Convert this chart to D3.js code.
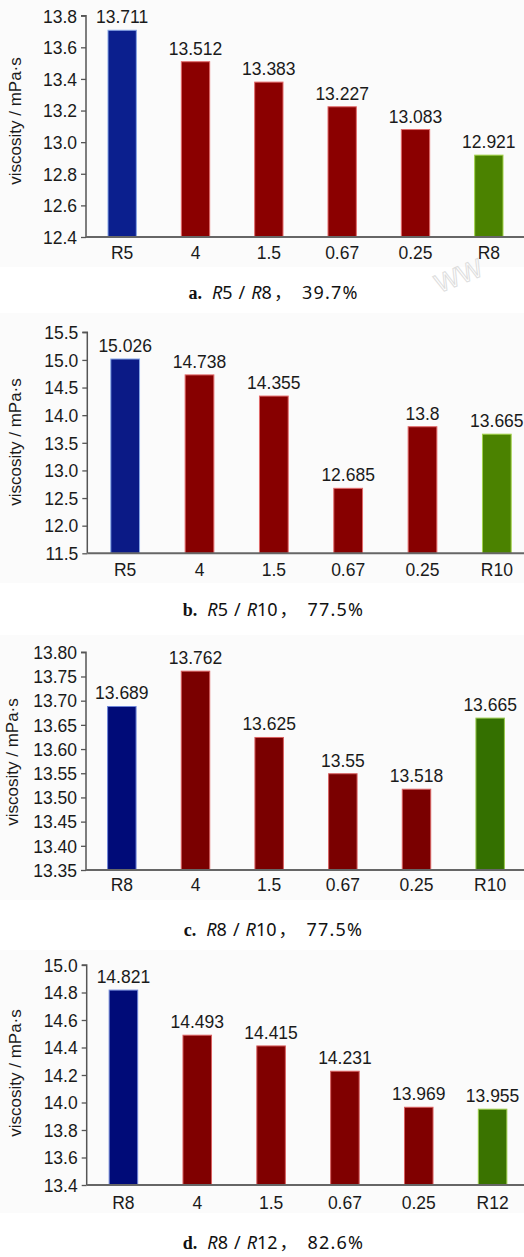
<!DOCTYPE html>
<html>
<head>
<meta charset="utf-8">
<script src="https://cdn.jsdelivr.net/npm/d3@7/dist/d3.min.js"></script>
<style>
  html, body { margin: 0; padding: 0; background: #fff; }
  svg { display: block; }
</style>
</head>
<body>
<svg id="chart" width="524" height="1257"></svg>
<script>
// ---- data -------------------------------------------------------------
const catsA = ["R5", "4", "1.5", "0.67", "0.25", "R8"];
const valsA = [13.711, 13.512, 13.383, 13.227, 13.083, 12.921];
const ticksA = [12.4, 12.6, 12.8, 13.0, 13.2, 13.4, 13.6, 13.8];

const catsB = ["R5", "4", "1.5", "0.67", "0.25", "R10"];
const valsB = [15.026, 14.738, 14.355, 12.685, 13.8, 13.665];
const ticksB = [11.5, 12.0, 12.5, 13.0, 13.5, 14.0, 14.5, 15.0, 15.5];

const catsC = ["R8", "4", "1.5", "0.67", "0.25", "R10"];
const valsC = [13.689, 13.762, 13.625, 13.55, 13.518, 13.665];
const ticksC = [13.35, 13.40, 13.45, 13.50, 13.55, 13.60, 13.65, 13.70, 13.75, 13.80];

const catsD = ["R8", "4", "1.5", "0.67", "0.25", "R12"];
const valsD = [14.821, 14.493, 14.415, 14.231, 13.969, 13.955];
const ticksD = [13.4, 13.6, 13.8, 14.0, 14.2, 14.4, 14.6, 14.8, 15.0];

// caption parts: letter, first ratio, second ratio, percentage
const captions = [
  ["a.", "5", "8", "39.7%"],
  ["b.", "5", "10", "77.5%"],
  ["c.", "8", "10", "77.5%"],
  ["d.", "8", "12", "82.6%"]
];

// ---- layout -----------------------------------------------------------
const panels = [
  { cats: catsA, vals: valsA, ticks: ticksA, dec: 1, cap: captions[0],
    bg: [0, 267], yTop: 15.7, yBot: 237, x0: 85.5, x1: 525.5, ax: 86,
    xLab: 259, yLab: [15, 121], capY: 299,
    colors: { start: ["#0b1f8e", "#86a6e6"], mid: ["#8b0000", "#e26a6a"], end: ["#4b8200", "#a3d24a"] } },
  { cats: catsB, vals: valsB, ticks: ticksB, dec: 1, cap: captions[1],
    bg: [313, 583], yTop: 332.3, yBot: 553.3, x0: 88, x1: 534, ax: 87.3,
    xLab: 576, yLab: [15, 442], capY: 616,
    colors: { start: ["#0b1a86", "#86a6e6"], mid: ["#870000", "#e26a6a"], end: ["#4b8200", "#a3d24a"] } },
  { cats: catsC, vals: valsC, ticks: ticksC, dec: 2, cap: captions[2],
    bg: [635, 900], yTop: 652.3, yBot: 870, x0: 85, x1: 527, ax: 86,
    xLab: 891, yLab: [12, 762], capY: 936,
    colors: { start: ["#000b78", "#6f86d8"], mid: ["#7a0000", "#d86060"], end: ["#347000", "#96c84a"] } },
  { cats: catsD, vals: valsD, ticks: ticksD, dec: 1, cap: captions[3],
    bg: [950, 1213], yTop: 965, yBot: 1185, x0: 86.5, x1: 529.5, ax: 86.7,
    xLab: 1209, yLab: [15, 1073], capY: 1249,
    colors: { start: ["#000b78", "#6f86d8"], mid: ["#800000", "#d86060"], end: ["#3a7300", "#9ccc4a"] } }
];

const svg = d3.select("#chart");
const sans = "'Liberation Sans', Arial, sans-serif";
const fs = 17.5;

panels.forEach(p => {
  const g = svg.append("g");

  // light panel background
  g.append("rect")
    .attr("x", 0).attr("y", p.bg[0])
    .attr("width", 524).attr("height", p.bg[1] - p.bg[0])
    .attr("fill", "#fbfbfb");

  const y = d3.scaleLinear()
    .domain([p.ticks[0], p.ticks[p.ticks.length - 1]])
    .range([p.yBot, p.yTop]);

  const x = d3.scaleBand()
    .domain(p.cats)
    .range([p.x0, p.x1])
    .paddingInner(0.6)
    .paddingOuter(0.3);

  // bars
  const colorOf = i => i === 0 ? p.colors.start : (i === p.cats.length - 1 ? p.colors.end : p.colors.mid);
  g.selectAll("rect.bar")
    .data(p.vals)
    .join("rect")
    .attr("class", "bar")
    .attr("x", (d, i) => x(p.cats[i]) + 0.5)
    .attr("y", d => y(d) + 0.5)
    .attr("width", x.bandwidth() - 1)
    .attr("height", d => y.range()[0] - y(d) - 0.5)
    .attr("fill", (d, i) => colorOf(i)[0])
    .attr("stroke", (d, i) => colorOf(i)[1])
    .attr("stroke-width", 1);

  // value labels
  g.selectAll("text.val")
    .data(p.vals)
    .join("text")
    .attr("class", "val")
    .attr("x", (d, i) => x(p.cats[i]) + x.bandwidth() / 2)
    .attr("y", d => y(d) - 6.5)
    .attr("text-anchor", "middle")
    .attr("font-family", sans)
    .attr("font-size", fs)
    .attr("fill", "#1a1a1a")
    .text(d => String(d));

  // y axis
  const yAxis = d3.axisLeft(y)
    .tickValues(p.ticks)
    .tickFormat(d3.format("." + p.dec + "f"))
    .tickSize(5)
    .tickPadding(4);
  const ya = g.append("g")
    .attr("transform", `translate(${p.ax},0)`)
    .call(yAxis);
  ya.select(".domain").attr("stroke", "#555").attr("stroke-width", 1.5)
    .attr("d", `M-5,${p.yTop}H0V${p.yBot}`);
  ya.selectAll(".tick line").attr("stroke", "#555").attr("stroke-width", 1.3);
  ya.selectAll(".tick text")
    .attr("dy", "0.36em")
    .attr("font-family", sans)
    .attr("font-size", fs)
    .attr("fill", "#1a1a1a");

  // x axis
  const xAxis = d3.axisBottom(x).tickSize(0).tickPadding(0);
  const xa = g.append("g")
    .attr("transform", `translate(0,${p.yBot})`)
    .call(xAxis);
  xa.select(".domain").attr("stroke", "#666").attr("stroke-width", 2)
    .attr("d", `M${p.ax},0H524`);
  xa.selectAll(".tick text")
    .attr("y", p.xLab - p.yBot)
    .attr("dy", 0)
    .attr("font-family", sans)
    .attr("font-size", fs)
    .attr("fill", "#1a1a1a");

  // y axis title
  g.append("text")
    .attr("transform", `translate(${p.yLab[0] + 6},${p.yLab[1]}) rotate(-90)`)
    .attr("text-anchor", "middle")
    .attr("font-family", sans)
    .attr("font-size", 17)
    .attr("fill", "#1a1a1a")
    .text("viscosity / mPa·s");

  // caption, centred under the plot
  const c = p.cap;
  const ns = "'Noto Sans', 'DejaVu Sans', sans-serif";
  const t = g.append("text")
    .attr("x", 273.5).attr("y", p.capY)
    .attr("text-anchor", "middle")
    .attr("font-size", 18)
    .attr("fill", "#111");
  t.append("tspan").attr("font-family", "'Liberation Serif', serif").attr("font-weight", "bold").text(c[0]);
  t.append("tspan").attr("font-family", ns).attr("font-style", "italic").attr("dx", 10).text("R");
  t.append("tspan").attr("font-family", ns).text(c[1]);
  t.append("tspan").attr("font-family", ns).attr("dx", 6).text("/");
  t.append("tspan").attr("font-family", ns).attr("font-style", "italic").attr("dx", 6).text("R");
  t.append("tspan").attr("font-family", ns).text(c[2]);
  t.append("tspan").attr("font-family", "'Noto Sans CJK SC', sans-serif").attr("dx", 2).text("，");
  t.append("tspan").attr("font-family", ns).attr("dx", 10).attr("letter-spacing", 1.2).text(c[3]);
});

// faint watermark strokes
svg.append("text")
  .attr("transform", "translate(462,284) rotate(-22)")
  .attr("text-anchor", "middle")
  .attr("font-family", "'Liberation Sans', sans-serif")
  .attr("font-size", 26)
  .attr("fill", "none")
  .attr("stroke", "#ddd")
  .attr("stroke-width", 1)
  .text("WW");
</script>
</body>
</html>
